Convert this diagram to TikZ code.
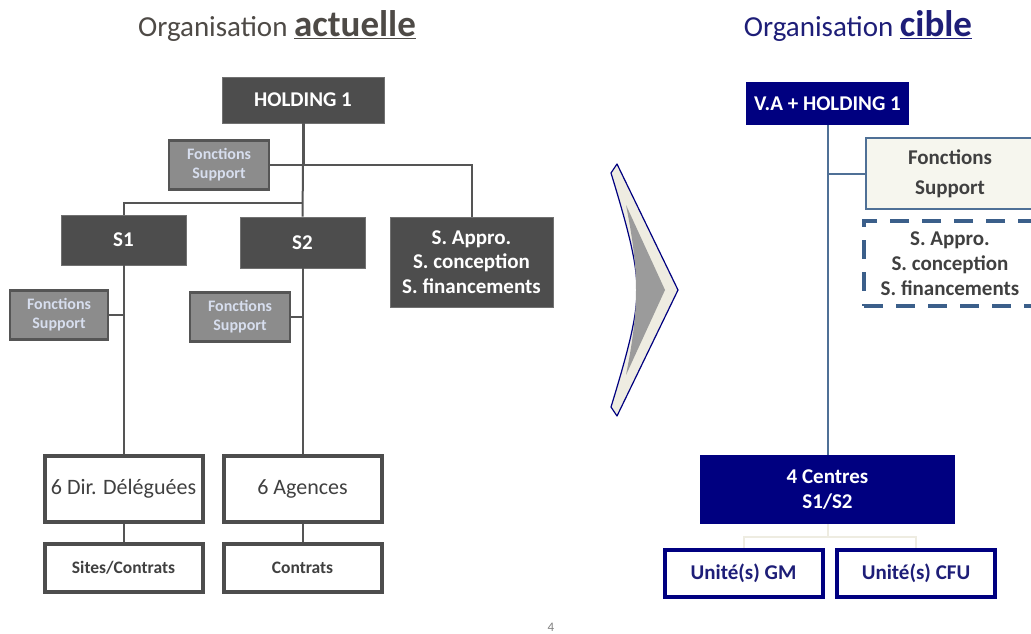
\documentclass[tikz,border=0pt]{standalone}
\usepackage{fontspec}
\setmainfont{Carlito}
\definecolor{boxgray}{RGB}{77,77,77}
\definecolor{supgray}{RGB}{140,140,140}
\definecolor{supedge}{RGB}{85,85,85}
\definecolor{suptext}{RGB}{215,222,238}
\definecolor{linegray}{RGB}{85,85,85}
\definecolor{txtgray}{RGB}{64,64,64}
\definecolor{titlegray}{RGB}{78,74,70}
\definecolor{navy}{RGB}{0,0,128}
\definecolor{titlenavy}{RGB}{30,30,120}
\definecolor{steel}{RGB}{79,112,150}
\definecolor{dashblue}{RGB}{59,95,138}
\definecolor{cream}{RGB}{238,236,225}
\definecolor{paper}{RGB}{246,246,238}
\definecolor{chevgray}{RGB}{155,155,155}
\begin{document}
\begin{tikzpicture}[x=1pt,y=-1pt,
  title/.style={anchor=base, inner sep=0, font=\fontsize{29}{32}\selectfont},
  darkbox/.style={fill=boxgray, draw=boxgray!80!white, line width=0.8, text=white, inner sep=0, align=center,
    font=\fontsize{21}{24}\selectfont\bfseries},
  suppbox/.style={fill=supgray, draw=supedge, line width=2.2, text=suptext, inner sep=0, align=center,
    minimum width=100, minimum height=49, font=\fontsize{16}{19}\selectfont\bfseries},
  outbox/.style={draw=boxgray, line width=4, fill=white, text=txtgray, inner sep=0, align=center,
    minimum width=158},
  link/.style={draw=linegray, line width=2},
  navybox/.style={fill=navy, draw=none, text=white, inner sep=0, align=center,
    font=\fontsize{21}{25}\selectfont\bfseries},
  unitbox/.style={draw=navy, line width=4, fill=white, text=titlenavy, inner sep=0, align=center,
    minimum width=158, minimum height=47, font=\fontsize{21}{24}\selectfont\bfseries},
  bluelink/.style={draw=steel, line width=2},
  creamlink/.style={draw=cream, line width=2}]
\clip (0,0) rectangle (1031,634);
\fill[white] (0,0) rectangle (1031,634);

% ---------- titles ----------
\node[title, text=titlegray] (t1) at (277,37)
  {Organisation {\fontsize{37}{40}\selectfont\bfseries\underline{actuelle}}};
\node[title, text=titlenavy] (t2) at (858,37)
  {Organisation {\fontsize{37}{40}\selectfont\bfseries\underline{cible}}};

% ---------- current organisation ----------
\node[darkbox, minimum width=162, minimum height=46] (hold) at (303,100) {HOLDING 1};
\node[suppbox] (fs0) at (219,165) {Fonctions\\Support};
\node[darkbox, minimum width=125, minimum height=50] (s1) at (123.5,240) {S1};
\node[darkbox, minimum width=125, minimum height=51] (s2) at (302.5,242.5) {S2};
\node[darkbox, minimum width=163, minimum height=90, font=\fontsize{21}{24.5}\selectfont\bfseries]
  (appro) at (471.5,262) {S. Appro.\\S. conception\\S. financements};
\node[suppbox, minimum width=98] (fs1) at (59,315) {Fonctions\\Support};
\node[suppbox] (fs2) at (240,317) {Fonctions\\Support};
\node[outbox, minimum height=66, font=\fontsize{22}{25}\selectfont] (dir) at (123.5,489) {6 Dir. Déléguées};
\node[outbox, minimum height=66, font=\fontsize{22}{25}\selectfont] (ag) at (302.5,489) {6 Agences};
\node[outbox, minimum height=48, font=\fontsize{17.5}{20}\selectfont\bfseries] (sites) at (123.5,568) {Sites/Contrats};
\node[outbox, minimum height=48, font=\fontsize{17.5}{20}\selectfont\bfseries] (ctr) at (302.5,568) {Contrats};

\coordinate (jA) at (303,165);
\coordinate (jB) at (303,203);
\draw[link, line width=3] (hold.south) -- (jA);
\draw[link] (jA) -- (s2.north);
\draw[link] (fs0.east) -- (jA);
\draw[link] (jA) -| (appro.north);
\draw[link] (jB) -| (s1.north);
\draw[link] (s1.south) -- (dir.north);
\draw[link] (s2.south) -- (ag.north);
\draw[link] (fs1.east) -- (fs1.east -| s1.south);
\draw[link] (fs2.east) -- (fs2.east -| s2.south);
\draw[link] (dir.south) -- (sites.north);
\draw[link] (ag.south) -- (ctr.north);

% ---------- transition chevron ----------
\path[fill=cream, draw=navy, line width=1.2, line join=round]
  (617,164) -- (678,290) -- (617,416) -- (611,407)
  .. controls (630,345) and (637,315) .. (637,290)
  .. controls (637,265) and (630,235) .. (611,173) -- cycle;
\path[fill=chevgray]
  (626,205) -- (665,290) -- (626,375)
  .. controls (633,340) and (636,315) .. (636,290)
  .. controls (636,265) and (633,240) .. cycle;

% ---------- target organisation ----------
\node[navybox, minimum width=163, minimum height=43] (va) at (827.5,103.5) {V.A + HOLDING 1};
\node[draw=steel, line width=2, fill=paper, text=txtgray, inner sep=0, align=center,
  minimum width=168, minimum height=71, font=\fontsize{21}{30}\selectfont\bfseries]
  (fsc) at (950,173.5) {Fonctions\\Support};
\node[draw=dashblue, line width=4, dash pattern=on 19 off 13, fill=white, text=txtgray, inner sep=0,
  align=center, minimum width=172, minimum height=85, font=\fontsize{21}{25}\selectfont\bfseries]
  (svc) at (950,263.5) {S. Appro.\\S. conception\\S. financements};
\node[navybox, minimum width=255, minimum height=69] (ctrs) at (827.5,489.5) {4 Centres\\S1/S2};
\node[unitbox] (gm) at (743.5,573) {Unité(s) GM};
\node[unitbox] (cfu) at (916,573) {Unité(s) CFU};

\draw[bluelink] (va.south) -- (ctrs.north);
\draw[bluelink] (fsc.west -| va.south) -- (fsc.west);
\coordinate (jC) at (827.5,537);
\draw[creamlink] (ctrs.south) -- (jC);
\draw[creamlink] (jC) -| (gm.north);
\draw[creamlink] (jC) -| (cfu.north);

% ---------- page number ----------
\node[anchor=north, inner sep=0, text=gray, font=\fontsize{13}{14}\selectfont] (pg) at (551,623) {4};
\end{tikzpicture}
\end{document}
